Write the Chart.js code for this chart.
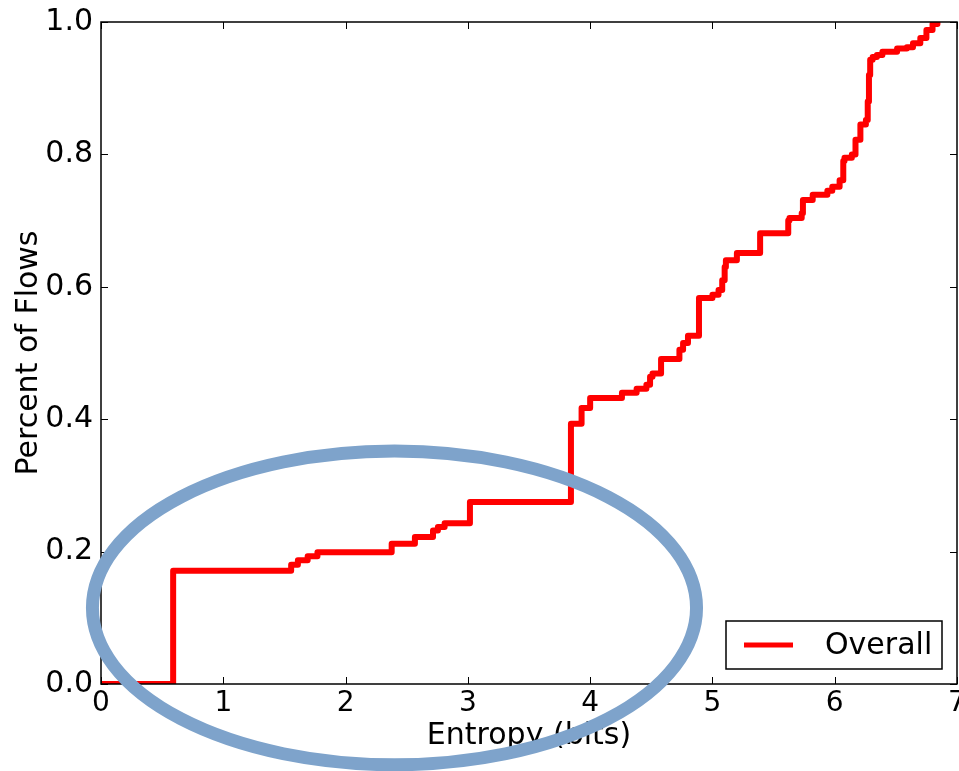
<!DOCTYPE html>
<html>
<head>
<meta charset="utf-8">
<script src="https://cdn.jsdelivr.net/npm/chart.js@4.4.0/dist/chart.umd.min.js"></script>
<style>
  html, body { margin: 0; padding: 0; background: #fff; }
</style>
</head>
<body>
<canvas id="cdf" width="959" height="771"></canvas>
<script>
// CDF of flow entropy (x = entropy in bits, y = cumulative fraction)
const entropyBits = [
  0, 0.59, 1.555, 1.61, 1.69, 1.77, 2.377, 2.567, 2.715, 2.755, 2.81, 3.017,
  3.843, 3.93, 4.0, 4.26, 4.38, 4.46, 4.49, 4.51, 4.58, 4.73, 4.76, 4.80,
  4.89, 5.0, 5.05, 5.08, 5.10, 5.11, 5.2, 5.39, 5.62, 5.63, 5.73, 5.74,
  5.82, 5.94, 5.98, 6.04, 6.07, 6.08, 6.14, 6.17, 6.21, 6.255, 6.27, 6.28,
  6.29, 6.31, 6.345, 6.39, 6.51, 6.59, 6.64, 6.70, 6.75, 6.80, 6.84
];
const flowFraction = [
  0, 0.171, 0.18, 0.187, 0.193, 0.199, 0.212, 0.222, 0.232, 0.237, 0.243, 0.275,
  0.393, 0.417, 0.432, 0.440, 0.446, 0.452, 0.464, 0.469, 0.491, 0.505, 0.515, 0.526,
  0.583, 0.588, 0.595, 0.61, 0.63, 0.64, 0.651, 0.681, 0.70, 0.704, 0.711, 0.731,
  0.739, 0.745, 0.751, 0.761, 0.79, 0.795, 0.80, 0.822, 0.845, 0.852, 0.88, 0.92,
  0.943, 0.947, 0.95, 0.955, 0.96, 0.962, 0.968, 0.976, 0.988, 0.997, 1.0
];
const seriesLabel = 'Overall';

const xTicks = [0, 1, 2, 3, 4, 5, 6, 7];
const yTicks = [0, 0.2, 0.4, 0.6, 0.8, 1.0];

// hand-drawn highlight ring, in data units: centre and radii
const ringCenter = [2.40, 0.115];
const ringRadii = [2.47, 0.237];

const FONT = 'DejaVu Sans';

// matplotlib-like frame with inward ticks on every side
const frameTicks = {
  id: 'frameTicks',
  afterDatasetsDraw(chart) {
    const { ctx, chartArea: a, scales: { x, y } } = chart;
    ctx.save();
    ctx.strokeStyle = '#000';
    ctx.lineWidth = 1.5;
    ctx.strokeRect(a.left, a.top, a.right - a.left, a.bottom - a.top);
    ctx.lineWidth = 1;
    ctx.beginPath();
    xTicks.forEach(v => {
      const px = Math.round(x.getPixelForValue(v)) + 0.5;
      ctx.moveTo(px, a.bottom); ctx.lineTo(px, a.bottom - 7);
      ctx.moveTo(px, a.top); ctx.lineTo(px, a.top + 7);
    });
    yTicks.forEach(v => {
      const py = Math.round(y.getPixelForValue(v)) + 0.5;
      ctx.moveTo(a.left, py); ctx.lineTo(a.left + 7, py);
      ctx.moveTo(a.right, py); ctx.lineTo(a.right - 7, py);
    });
    ctx.stroke();
    ctx.restore();
  }
};

const legendBox = {
  id: 'legendBox',
  afterDatasetsDraw(chart) {
    const { ctx, chartArea: a } = chart;
    const ds = chart.data.datasets[0];
    const w = 216, h = 48;
    const left = a.right - 15 - w, top = a.bottom - 15 - h;
    ctx.save();
    ctx.fillStyle = '#fff';
    ctx.fillRect(left, top, w, h);
    ctx.strokeStyle = '#000';
    ctx.lineWidth = 1.5;
    ctx.strokeRect(left, top, w, h);
    ctx.strokeStyle = ds.borderColor;
    ctx.lineWidth = 5;
    ctx.beginPath();
    ctx.moveTo(left + 18, top + h / 2);
    ctx.lineTo(left + 67, top + h / 2);
    ctx.stroke();
    ctx.fillStyle = '#000';
    ctx.font = '30px "' + FONT + '"';
    ctx.textBaseline = 'middle';
    ctx.fillText(ds.label, left + 99, top + h / 2 + 1);
    ctx.restore();
  }
};

const ringNote = {
  id: 'ringNote',
  afterDraw(chart) {
    const { ctx, scales: { x, y } } = chart;
    const cx = x.getPixelForValue(ringCenter[0]);
    const cy = y.getPixelForValue(ringCenter[1]);
    const rx = x.getPixelForValue(ringCenter[0] + ringRadii[0]) - cx;
    const ry = cy - y.getPixelForValue(ringCenter[1] + ringRadii[1]);
    ctx.save();
    ctx.strokeStyle = '#7ea3cb';
    ctx.lineWidth = 13;
    ctx.beginPath();
    ctx.ellipse(cx, cy, rx, ry, 0, 0, Math.PI * 2);
    ctx.stroke();
    ctx.restore();
  }
};

new Chart(document.getElementById('cdf').getContext('2d'), {
  type: 'line',
  data: {
    datasets: [{
      label: seriesLabel,
      data: entropyBits.map((v, i) => ({ x: v, y: flowFraction[i] })),
      borderColor: '#ff0000',
      borderWidth: 6,
      borderJoinStyle: 'round',
      pointRadius: 0,
      stepped: true,
      fill: false,
      clip: 0
    }]
  },
  options: {
    responsive: false,
    animation: false,
    layout: { padding: { top: 22, right: 2, left: 0, bottom: 0 } },
    plugins: { legend: { display: false }, tooltip: { enabled: false } },
    scales: {
      x: {
        type: 'linear', min: 0, max: 7,
        grid: { display: false, drawTicks: false },
        border: { display: false },
        afterBuildTicks: s => { s.ticks = xTicks.map(v => ({ value: v })); },
        ticks: {
          padding: 3, maxRotation: 0, autoSkip: false, color: '#000',
          font: { family: FONT, size: 28, lineHeight: 1.2 },
          callback: v => String(v)
        },
        title: {
          display: true, text: 'Entropy (bits)', color: '#000',
          font: { family: FONT, size: 30, lineHeight: 1.2 },
          padding: { top: 0, bottom: 17 }
        },
        afterFit: s => { s.height = 87; s.paddingLeft = 0; s.paddingRight = 0; }
      },
      y: {
        type: 'linear', min: 0, max: 1,
        grid: { display: false, drawTicks: false },
        border: { display: false },
        afterBuildTicks: s => { s.ticks = yTicks.map(v => ({ value: v })); },
        ticks: {
          padding: 8, autoSkip: false, color: '#000',
          font: { family: FONT, size: 30, lineHeight: 1.2 },
          callback: v => v.toFixed(1)
        },
        title: {
          display: true, text: 'Percent of Flows', color: '#000',
          font: { family: FONT, size: 30, lineHeight: 1.2 },
          padding: { top: 11, bottom: 0 }
        },
        afterFit: s => { s.width = 101; s.paddingTop = 0; s.paddingBottom = 0; }
      }
    }
  },
  plugins: [frameTicks, legendBox, ringNote]
});
</script>
</body>
</html>
